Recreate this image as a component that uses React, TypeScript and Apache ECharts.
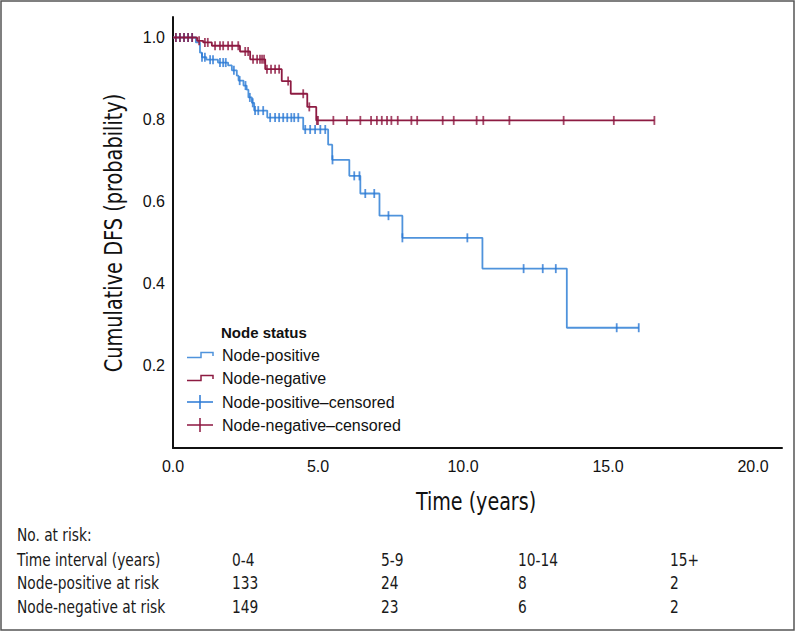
import React, { useEffect, useRef } from "react";
import * as echarts from "echarts";

// Kaplan–Meier steps: [time (years), survival from that time on]
const positiveSteps: [number, number][] = [
  [0, 1.0], [0.79, 0.988], [0.93, 0.963], [1.0, 0.952], [1.15, 0.946],
  [1.55, 0.939], [1.9, 0.932], [2.03, 0.92], [2.2, 0.907], [2.26, 0.895],
  [2.43, 0.883], [2.54, 0.873], [2.6, 0.854], [2.72, 0.841], [2.8, 0.822],
  [3.25, 0.805], [4.49, 0.776], [5.35, 0.739], [5.49, 0.702], [6.08, 0.663],
  [6.46, 0.62], [7.12, 0.566], [7.91, 0.512], [10.67, 0.437], [13.58, 0.293],
];
const positiveEnd = 16.06;
const positiveCensored: number[] = [
  0.1, 0.24, 0.38, 0.52, 0.66, 1.0, 1.1, 1.28, 1.38, 1.62, 1.73, 1.82, 2.1, 2.3,
  2.5, 2.65, 2.75, 2.83, 2.94, 3.11, 3.35, 3.52, 3.66, 3.8, 3.94, 4.08, 4.18,
  4.32, 4.56, 4.73, 4.9, 5.08, 5.25, 5.5, 6.25, 6.43, 6.63, 6.94, 7.43, 7.91,
  10.15, 12.09, 12.75, 13.2, 15.3, 16.06,
];

const negativeSteps: [number, number][] = [
  [0, 1.0], [0.83, 0.992], [1.04, 0.988], [1.34, 0.98], [2.31, 0.966],
  [2.66, 0.947], [3.18, 0.923], [3.75, 0.894], [4.06, 0.863], [4.63, 0.831],
  [4.94, 0.798],
];
const negativeEnd = 16.6;
const negativeCensored: number[] = [
  0.1, 0.24, 0.38, 0.52, 0.66, 0.9, 1.1, 1.2, 1.45, 1.62, 1.73, 1.9, 2.04, 2.25,
  2.49, 2.59, 2.76, 2.9, 3.0, 3.07, 3.14, 3.24, 3.38, 3.52, 3.66, 3.97, 4.49,
  4.7, 4.96, 5.0, 5.53, 6.0, 6.46, 6.83, 7.03, 7.2, 7.38, 7.53, 7.75, 8.22,
  8.42, 9.3, 9.68, 10.47, 10.7, 11.6, 13.47, 15.2, 16.6,
];

const legendTitle = "Node status";
const legendLabels = [
  "Node-positive",
  "Node-negative",
  "Node-positive–censored",
  "Node-negative–censored",
];

const riskTitle = "No. at risk:";
const riskRowLabels = ["Time interval (years)", "Node-positive at risk", "Node-negative at risk"];
const intervalLabels = ["0-4", "5-9", "10-14", "15+"];
const positiveAtRisk = ["133", "24", "8", "2"];
const negativeAtRisk = ["149", "23", "6", "2"];

const yAxisTitle = "Cumulative DFS (probability)";
const xAxisTitle = "Time (years)";

const BLUE_LINE = "#4f93dc";
const BLUE_MARK = "#2a78d4";
const RED_LINE = "#8d1b42";
const RED_MARK = "#8d1640";
const NARROW = '"DejaVu Sans Condensed", "Liberation Sans Narrow", sans-serif';
const SANS = '"Liberation Sans", Arial, Helvetica, sans-serif';

function survivalAt(steps: [number, number][], t: number): number {
  let v = steps[0][1];
  for (const [time, s] of steps) {
    if (time <= t + 1e-9) v = s;
  }
  return v;
}

export default function App() {
  const ref = useRef<HTMLDivElement>(null);

  useEffect(() => {
    if (!ref.current) return;
    const chart = echarts.init(ref.current, undefined, { renderer: "svg" });

    const posLine = [...positiveSteps.map((p) => [p[0], p[1]]), [positiveEnd, positiveSteps[positiveSteps.length - 1][1]]];
    const negLine = [...negativeSteps.map((p) => [p[0], p[1]]), [negativeEnd, negativeSteps[negativeSteps.length - 1][1]]];
    const posMarks = positiveCensored.map((t) => [t, survivalAt(positiveSteps, t)]);
    const negMarks = negativeCensored.map((t) => [t, survivalAt(negativeSteps, t)]);

    const legendX = 187;
    const legendYs = [355, 378, 402, 425];
    const graphics: any[] = [
      {
        type: "rect",
        shape: { x: 1, y: 1, width: 793, height: 629 },
        style: { fill: "none", stroke: "#555", lineWidth: 1.5 },
        silent: true,
      },
      {
        type: "text",
        x: 113,
        y: 233,
        rotation: Math.PI / 2,
        scaleX: 0.86,
        style: { text: yAxisTitle, font: `25px ${NARROW}`, fill: "#111", align: "center", verticalAlign: "middle" },
      },
      {
        type: "text",
        x: 476,
        y: 501,
        scaleX: 0.85,
        style: { text: xAxisTitle, font: `25px ${NARROW}`, fill: "#111", align: "center", verticalAlign: "middle" },
      },
      {
        type: "text",
        x: 221,
        y: 332,
        style: { text: legendTitle, font: `bold 15px ${SANS}`, fill: "#111", align: "left", verticalAlign: "middle" },
      },
    ];

    const iconColors = [BLUE_LINE, RED_LINE, BLUE_MARK, RED_MARK];
    legendLabels.forEach((label, i) => {
      const y = legendYs[i];
      if (i < 2) {
        graphics.push({
          type: "polyline",
          shape: {
            points: [
              [legendX, y + 2.5],
              [legendX + 14, y + 2.5],
              [legendX + 14, y - 2.5],
              [legendX + 26, y - 2.5],
              [legendX + 26, y + 1],
            ],
          },
          style: { stroke: iconColors[i], lineWidth: 1.5, fill: "none" },
        });
      } else {
        graphics.push({
          type: "line",
          shape: { x1: legendX, y1: y, x2: legendX + 26, y2: y },
          style: { stroke: iconColors[i], lineWidth: 1.5 },
        });
        graphics.push({
          type: "line",
          shape: { x1: legendX + 13, y1: y - 7, x2: legendX + 13, y2: y + 7 },
          style: { stroke: iconColors[i], lineWidth: 1.5 },
        });
      }
      graphics.push({
        type: "text",
        x: 222,
        y: y,
        style: { text: label, font: `16px ${SANS}`, fill: "#111", align: "left", verticalAlign: "middle" },
      });
    });

    const rowYs = [535, 560, 583, 607];
    const colXs = [232, 381, 518, 670];
    const tableFont = `17px ${NARROW}`;
    const tableScale = 0.9;
    graphics.push({
      type: "text",
      x: 17,
      y: rowYs[0],
      scaleX: tableScale,
      style: { text: riskTitle, font: tableFont, fill: "#1a1a1a", align: "left", verticalAlign: "middle" },
    });
    const rows = [intervalLabels, positiveAtRisk, negativeAtRisk];
    rows.forEach((row, r) => {
      graphics.push({
        type: "text",
        x: 17,
        y: rowYs[r + 1],
        scaleX: tableScale,
        style: { text: riskRowLabels[r], font: tableFont, fill: "#1a1a1a", align: "left", verticalAlign: "middle" },
      });
      row.forEach((val, c) => {
        graphics.push({
          type: "text",
          x: colXs[c],
          y: rowYs[r + 1],
          scaleX: tableScale,
          style: { text: val, font: tableFont, fill: "#1a1a1a", align: "left", verticalAlign: "middle" },
        });
      });
    });

    chart.setOption({
      animation: false,
      backgroundColor: "#fff",
      grid: { left: 173, right: 15, top: 17, bottom: 184, containLabel: false },
      xAxis: {
        type: "value",
        min: 0,
        max: 21,
        interval: 5,
        axisLine: { show: true, lineStyle: { color: "#111", width: 2 } },
        axisTick: { show: false },
        splitLine: { show: false },
        axisLabel: {
          showMaxLabel: false,
          margin: 10,
          color: "#111",
          fontSize: 16,
          fontFamily: SANS,
          formatter: (v: number) => v.toFixed(1),
        },
      },
      yAxis: {
        type: "value",
        min: 0,
        max: 1.05,
        interval: 0.2,
        axisLine: { show: true, lineStyle: { color: "#111", width: 2 } },
        axisTick: { show: false },
        splitLine: { show: false },
        axisLabel: {
          showMinLabel: false,
          showMaxLabel: false,
          margin: 8,
          color: "#111",
          fontSize: 16,
          fontFamily: SANS,
          formatter: (v: number) => (v > 0 && v <= 1.0001 ? v.toFixed(1) : ""),
        },
      },
      series: [
        {
          name: "Node-positive",
          type: "line",
          step: "end",
          data: posLine,
          symbol: "none",
          lineStyle: { color: BLUE_LINE, width: 1.8 },
          z: 2,
        },
        {
          name: "Node-positive–censored",
          type: "scatter",
          data: posMarks,
          symbol: "rect",
          symbolSize: [1.8, 9],
          itemStyle: { color: BLUE_MARK },
          z: 3,
        },
        {
          name: "Node-negative",
          type: "line",
          step: "end",
          data: negLine,
          symbol: "none",
          lineStyle: { color: RED_LINE, width: 1.8 },
          z: 4,
        },
        {
          name: "Node-negative–censored",
          type: "scatter",
          data: negMarks,
          symbol: "rect",
          symbolSize: [1.8, 9],
          itemStyle: { color: RED_MARK },
          z: 5,
        },
      ],
      graphic: graphics,
    });

    return () => chart.dispose();
  }, []);

  return (
    <div
      ref={ref}
      style={{ position: "fixed", left: 0, top: 0, width: 797, height: 632, background: "#fff" }}
    />
  );
}
